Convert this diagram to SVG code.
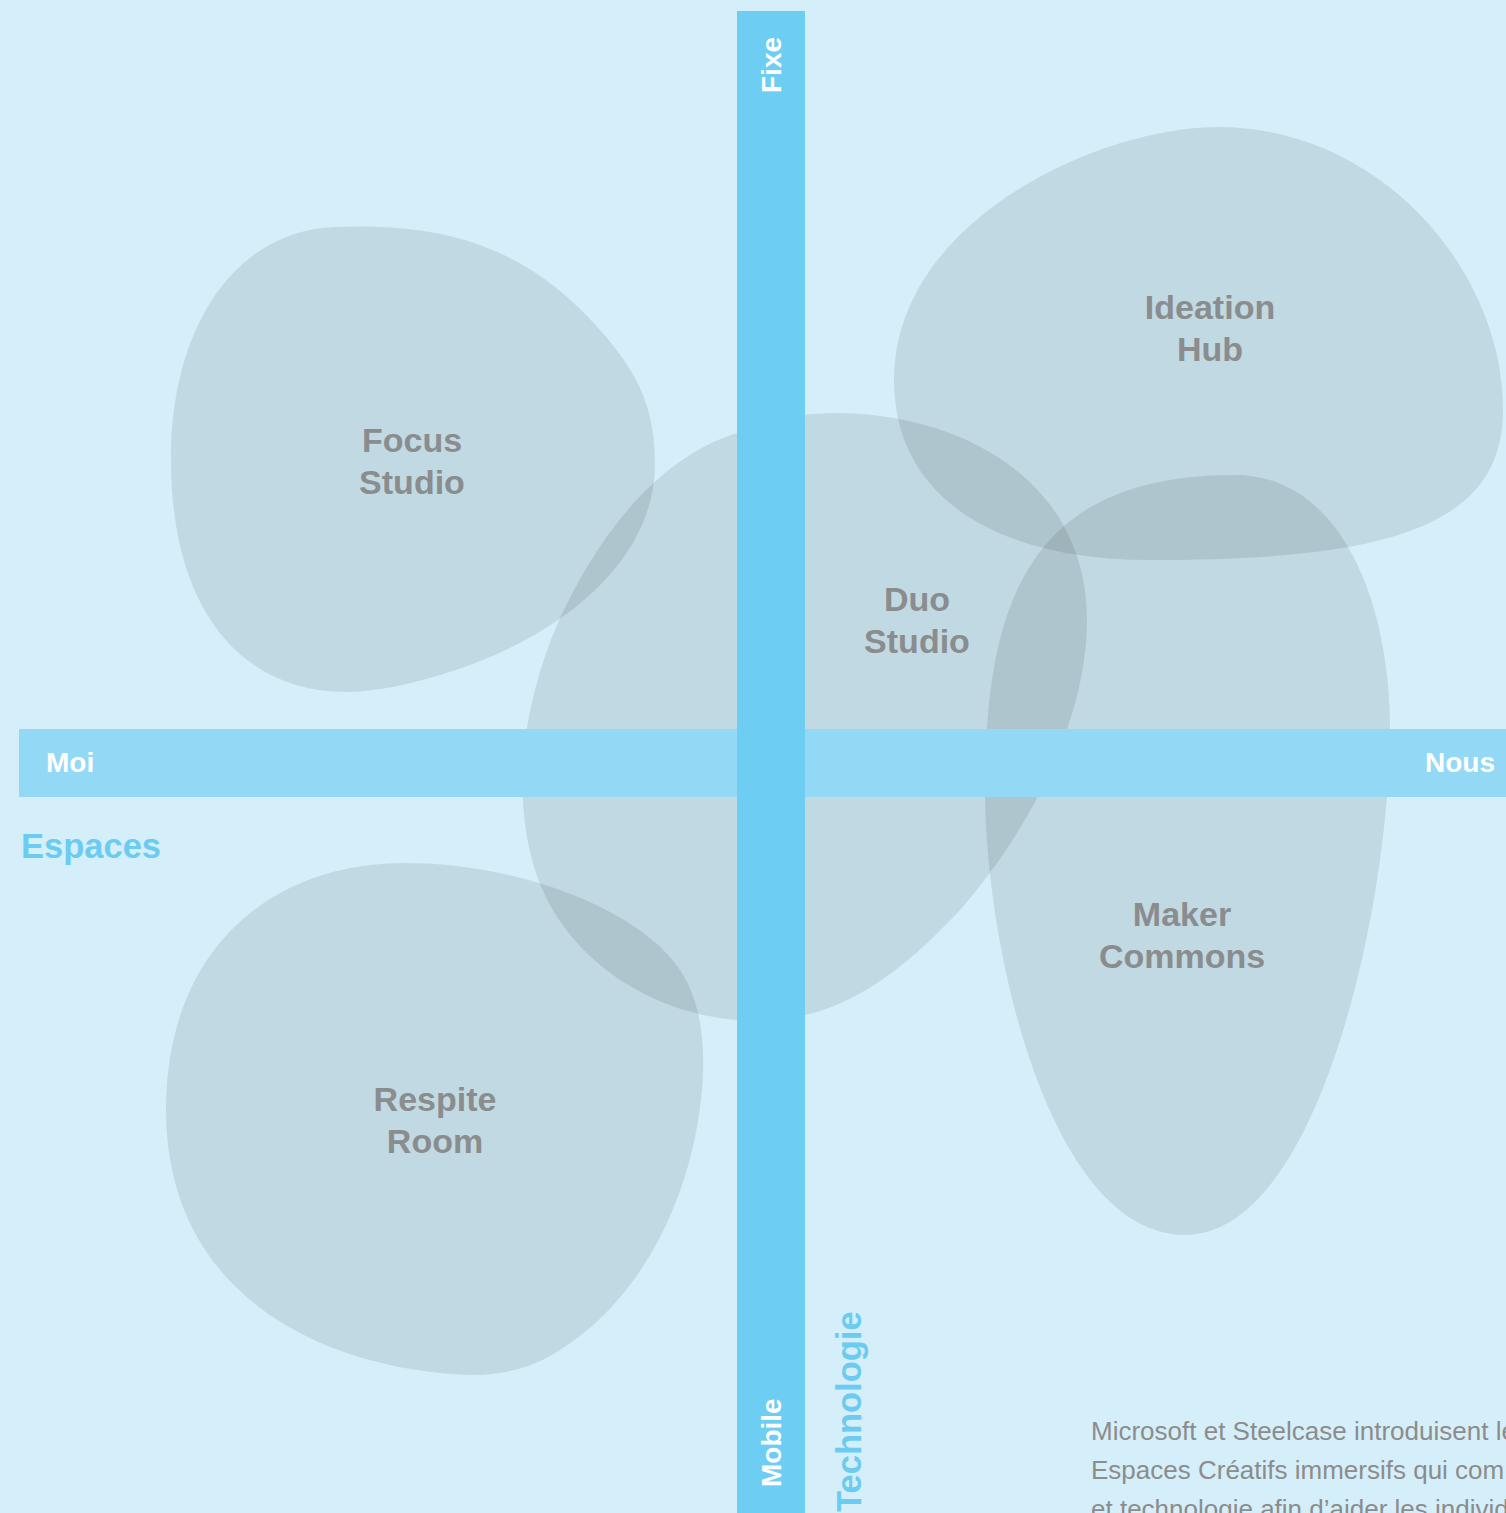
<svg xmlns="http://www.w3.org/2000/svg" width="1506" height="1513" viewBox="0 0 1506 1513">
<style>
.blob{fill:#000;fill-opacity:0.09}
.lbl{font-family:"Liberation Sans",Arial,sans-serif;font-weight:bold;font-size:34px;fill:#8a8c8e;text-anchor:middle}
.ax{font-family:"Liberation Sans",Arial,sans-serif;font-weight:bold;font-size:28px;fill:#ffffff}
.cat{font-family:"Liberation Sans",Arial,sans-serif;font-weight:bold;font-size:34.5px;fill:#6ccbf0}
.para{font-family:"Liberation Sans",Arial,sans-serif;font-size:26px;fill:#8c8c8c}
</style>
<rect width="1506" height="1513" fill="#d4eff9"/>
<g id="focus-studio">
<path class="blob" d="M 335 227 C 450 222 530 250 600 330 C 640 375 655 410 655 465 C 655 560 560 640 440 675 C 400 687 370 692 345 692 C 250 692 171 620 171 460 C 171 320 240 230 335 227 Z"/>
<text class="lbl" x="412" y="452">Focus</text>
<text class="lbl" x="412" y="494">Studio</text>
</g>
<g id="ideation-hub">
<path class="blob" d="M 1218 127 C 1380 127 1503 270 1503 410 C 1503 530 1380 560 1150 560 C 1000 560 894 500 894 380 C 894 220 1100 127 1218 127 Z"/>
<text class="lbl" x="1210" y="319">Ideation</text>
<text class="lbl" x="1210" y="361">Hub</text>
</g>
<g id="duo-studio">
<path class="blob" d="M 836 413 C 960 413 1087 480 1087 620 C 1087 720 1030 830 960 910 C 900 975 850 1005 805 1015 C 780 1020 760 1022 737 1020 C 640 1012 560 950 535 870 C 510 790 525 700 557 625 C 590 550 650 460 737 433 C 770 420 800 413 836 413 Z"/>
<text class="lbl" x="917" y="611">Duo</text>
<text class="lbl" x="917" y="653">Studio</text>
</g>
<g id="maker-commons">
<path class="blob" d="M 1235 475 C 1340 475 1390 600 1390 730 C 1390 900 1320 1235 1185 1235 C 1050 1235 985 950 985 790 C 985 600 1030 475 1235 475 Z"/>
<text class="lbl" x="1182" y="926">Maker</text>
<text class="lbl" x="1182" y="968">Commons</text>
</g>
<g id="respite-room">
<path class="blob" d="M 405 863 C 520 863 640 910 680 970 C 700 1000 706 1040 702 1090 C 692 1200 640 1300 560 1350 C 530 1370 500 1375 470 1375 C 330 1370 166 1300 166 1110 C 166 950 270 863 405 863 Z"/>
<text class="lbl" x="435" y="1111">Respite</text>
<text class="lbl" x="435" y="1153">Room</text>
</g>
<g id="axes">
<rect x="19" y="729" width="1487" height="68" fill="#93d9f5"/>
<rect x="737" y="11" width="68" height="1502" fill="#6dcdf2"/>
<text class="ax" x="46" y="772">Moi</text>
<text class="ax" x="1495" y="772" text-anchor="end">Nous</text>
<text class="ax" transform="translate(781 93) rotate(-90)">Fixe</text>
<text class="ax" transform="translate(781 1487) rotate(-90)">Mobile</text>
</g>
<g id="categories">
<text class="cat" x="21" y="858">Espaces</text>
<text class="cat" transform="translate(861 1512) rotate(-90)">Technologie</text>
</g>
<g id="caption">
<text class="para" x="1091" y="1440">Microsoft et Steelcase introduisent le</text>
<text class="para" x="1091" y="1479">Espaces Créatifs immersifs qui com</text>
<text class="para" x="1091" y="1518">et technologie afin d’aider les individ</text>
</g>
</svg>
